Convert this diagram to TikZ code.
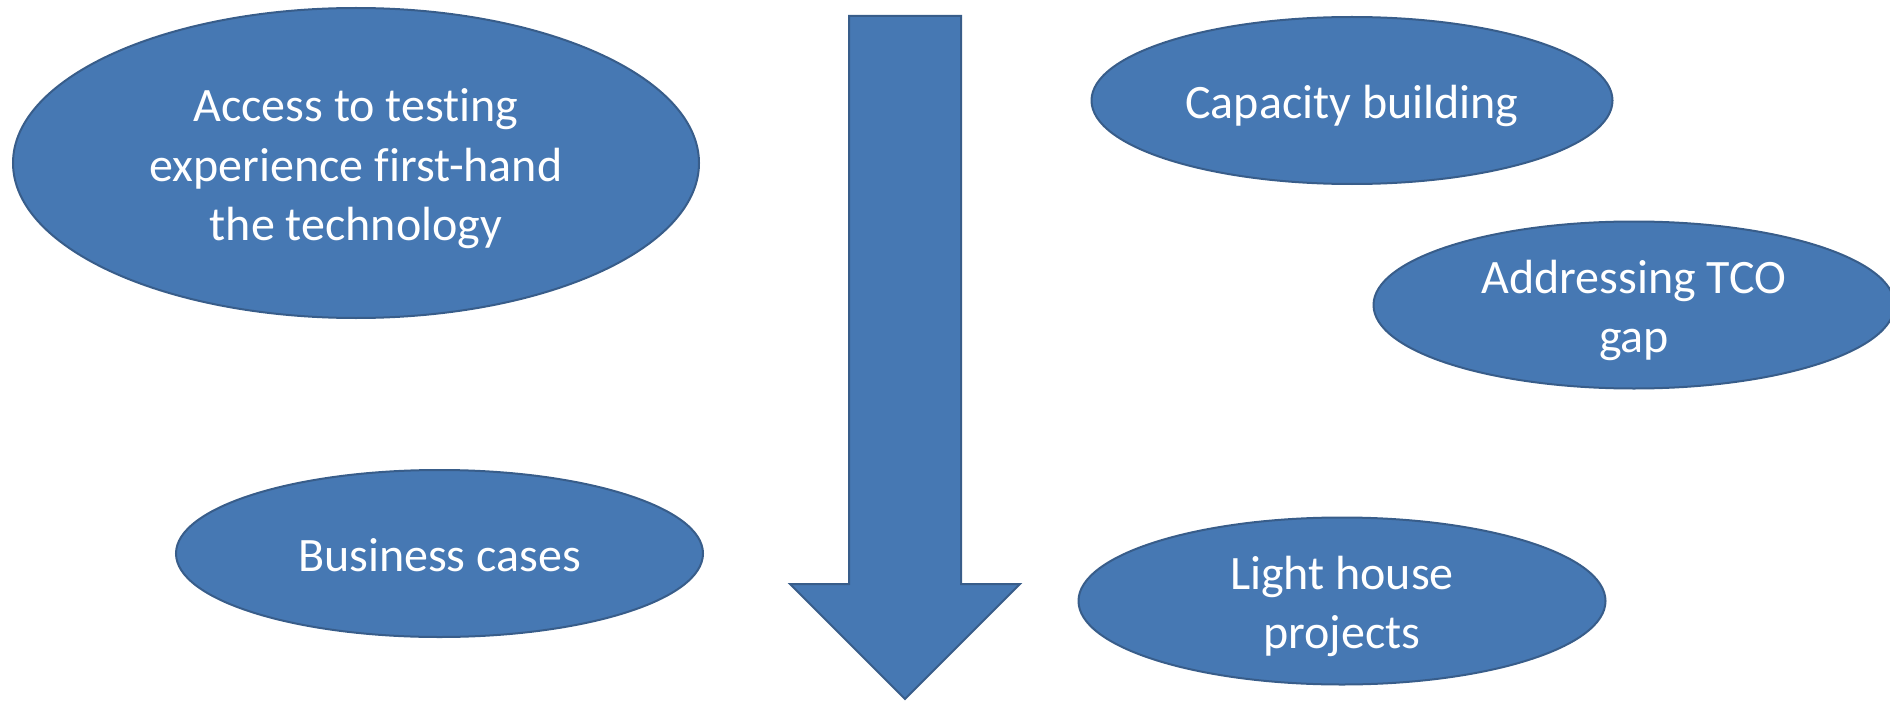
\documentclass[tikz,border=0pt]{standalone}
\usepackage{fontspec}
\setmainfont[Ligatures=NoCommon]{Carlito}
\usetikzlibrary{shapes.geometric}
\definecolor{shapefill}{HTML}{4678B3}
\definecolor{shapeline}{HTML}{385D8A}
\newcommand\tstrut{\rule{0pt}{23pt}}
\newcommand\bstrut{\rule[-5pt]{0pt}{5pt}}
\tikzset{
  bubble/.style={ellipse, draw=shapeline, line width=1pt, fill=shapefill, text=white,
    inner sep=0pt, align=center,
    font=\fontsize{24}{29.5}\selectfont},
  bigarrow/.style={draw=shapeline, line width=1pt, fill=shapefill, line join=miter}
}
\begin{document}
\begin{tikzpicture}[x=0.5pt,y=-0.5pt]
\useasboundingbox (0,0) rectangle (1890,701);
% down arrow
\draw[bigarrow] (849,16) -- (961,16) -- (961,584) -- (1020,584) -- (905,699)
  -- (790,584) -- (849,584) -- cycle;
% ellipses
\node[bubble, minimum width=343pt, minimum height=155pt] (access) at (356,163)
  {\tstrut Access to testing\\experience first-hand\\the technology\bstrut};
\node[bubble, minimum width=263.5pt, minimum height=83.5pt] (business) at (439.5,553.5)
  {\tstrut Business cases\bstrut};
\node[bubble, minimum width=260.5pt, minimum height=83.5pt] (capacity) at (1352,100.5)
  {\tstrut Capacity building\bstrut};
\node[bubble, minimum width=260.5pt, minimum height=83.5pt] (tco) at (1634,305)
  {\tstrut Addressing TCO\\gap\bstrut};
\node[bubble, minimum width=263.5pt, minimum height=83.5pt] (light) at (1342,601)
  {\tstrut Light house\\projects\bstrut};
\end{tikzpicture}
\end{document}
